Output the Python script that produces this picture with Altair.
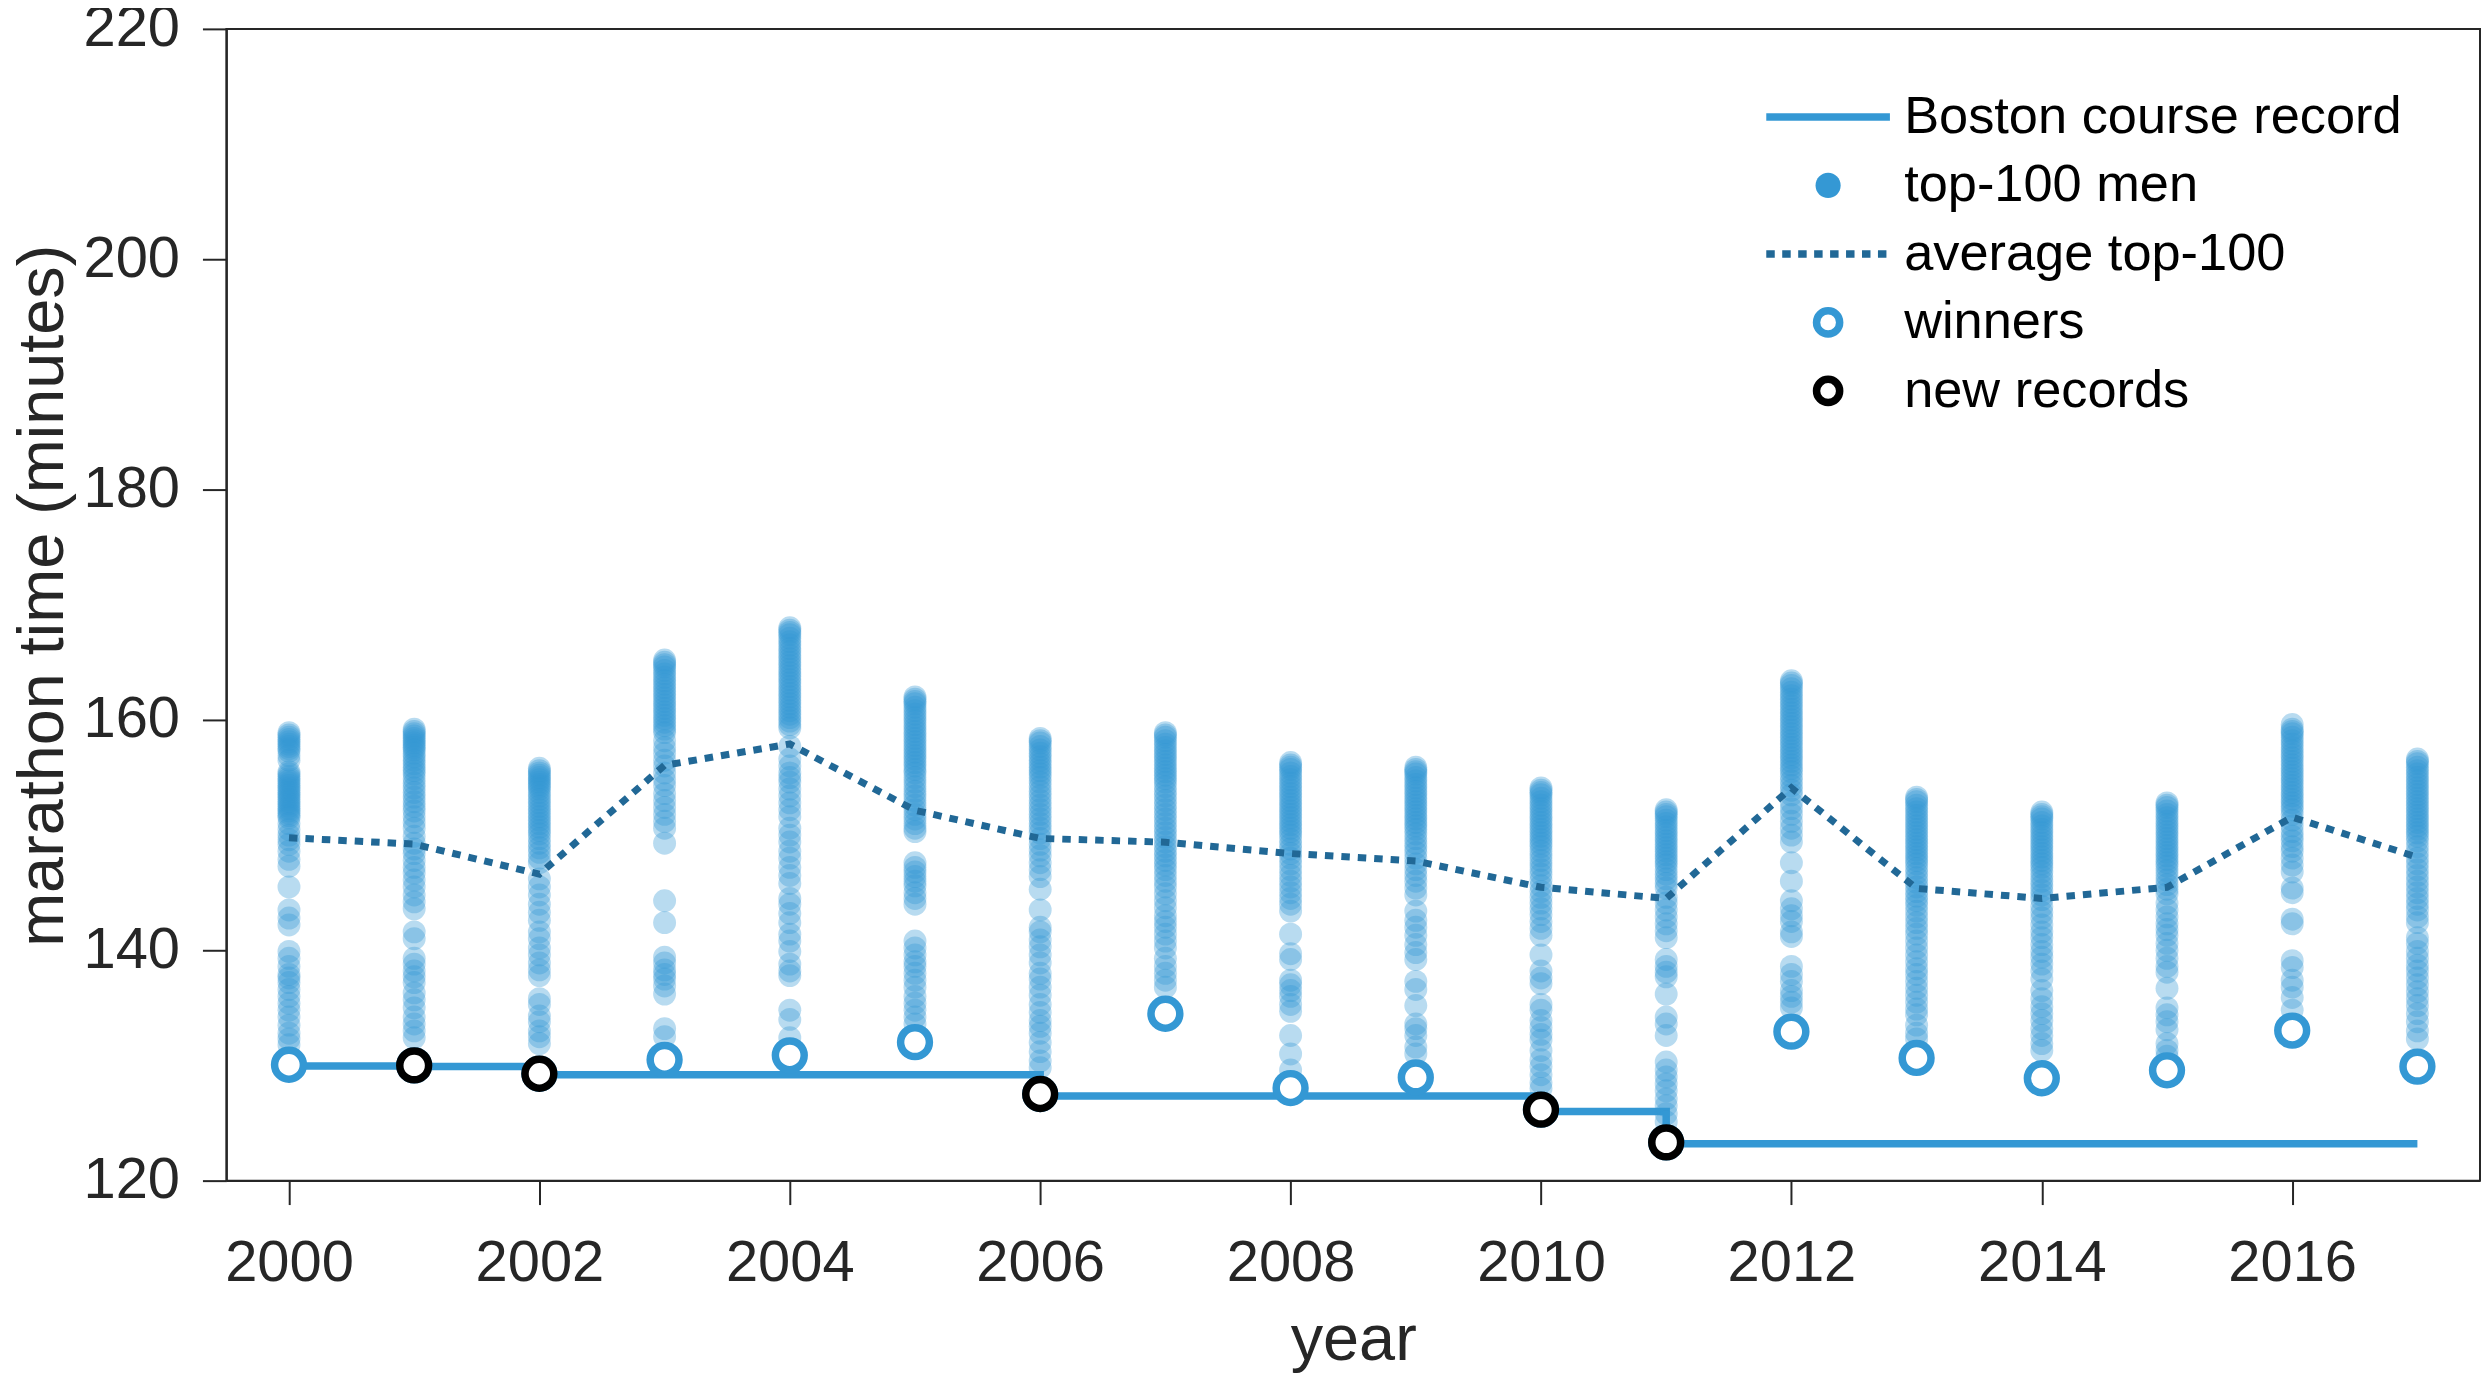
import altair as alt
import pandas as pd

# ---------------- data ----------------
years = list(range(2000, 2018))

winners = [130.06, 130.0, 129.28, 130.49, 130.88, 132.02, 127.52, 134.49, 128.04,
           128.96, 126.16, 123.32, 132.93, 130.65, 128.89, 129.58, 133.03, 129.90]

average = [149.77, 149.22, 146.61, 156.06, 157.91, 152.15, 149.71, 149.38, 148.40,
           147.75, 145.47, 144.50, 154.10, 145.37, 144.50, 145.47, 151.56, 148.08]

record_years = [2000, 2001, 2002, 2006, 2010, 2011, 2017]
record_times = [129.95, 129.9, 129.2, 127.35, 126.0, 123.2, 123.2]

new_record_years = [2001, 2002, 2006, 2010, 2011]
new_record_times = [130.0, 129.28, 127.52, 126.16, 123.32]

t2000 = [158.9, 158.7, 158.5, 158.3, 158.1, 157.9, 157.7, 157.5, 157.3, 156.9, 156.5, 155.5, 155.3, 155.1, 154.9, 154.7, 154.5, 154.3, 154.1, 153.9, 153.7, 153.5, 153.3, 153.1, 152.9, 152.7, 152.5, 152.3, 152.1, 151.9, 151.7, 151.5, 151.0, 150.5, 150.0, 149.6, 149.2, 148.6, 147.9, 147.3, 145.5, 143.5, 142.8, 142.2, 139.9, 139.3, 138.6, 137.9, 137.6, 137.2, 136.6, 136.0, 135.4, 134.8, 134.2, 133.5, 132.8, 132.3, 131.8]
t2001 = [159.2, 159.0, 158.8, 158.6, 158.4, 158.2, 158.0, 157.8, 157.6, 157.4, 157.1, 156.8, 156.5, 156.2, 155.9, 155.6, 155.3, 154.9, 154.5, 154.1, 153.7, 153.3, 152.9, 152.5, 152.1, 151.6, 151.1, 150.6, 149.9, 149.3, 148.8, 148.4, 147.8, 147.2, 146.7, 146.1, 145.5, 144.8, 144.2, 143.6, 141.6, 141.0, 139.3, 138.8, 138.2, 137.7, 137.2, 136.3, 135.7, 135.0, 134.2, 133.6, 133.0, 132.4]
t2002 = [155.8, 155.6, 155.4, 155.2, 155.0, 154.8, 154.6, 154.4, 154.2, 154.0, 153.7, 153.4, 153.1, 152.8, 152.5, 152.2, 151.9, 151.6, 151.3, 151.0, 150.7, 150.4, 150.1, 149.7, 149.3, 148.9, 148.5, 148.0, 147.6, 146.2, 145.5, 144.8, 144.0, 143.3, 142.6, 141.6, 141.0, 140.2, 139.6, 138.9, 138.3, 137.8, 135.8, 135.3, 134.3, 133.8, 133.0, 132.5, 131.9]
t2003 = [165.2, 165.0, 164.8, 164.6, 164.3, 164.0, 163.7, 163.4, 163.1, 162.8, 162.5, 162.2, 161.9, 161.6, 161.3, 161.0, 160.7, 160.4, 160.1, 159.8, 159.5, 159.2, 158.9, 158.2, 157.6, 157.1, 156.5, 156.0, 155.4, 154.8, 154.3, 153.6, 153.0, 152.4, 151.8, 151.2, 150.6, 149.3, 144.3, 142.4, 139.4, 138.9, 138.3, 137.9, 137.5, 136.9, 136.2, 133.2, 132.5]
t2004 = [168.0, 167.8, 167.6, 167.4, 167.1, 166.8, 166.5, 166.2, 165.9, 165.6, 165.3, 165.0, 164.7, 164.4, 164.1, 163.8, 163.5, 163.2, 162.9, 162.6, 162.3, 162.0, 161.7, 161.4, 161.1, 160.8, 160.5, 160.2, 159.9, 159.6, 159.3, 157.7, 156.6, 156.0, 155.4, 155.0, 154.6, 154.0, 153.4, 152.8, 152.2, 151.6, 150.6, 150.0, 149.4, 148.6, 148.0, 147.2, 146.5, 145.8, 144.5, 144.0, 143.2, 142.4, 141.4, 140.8, 139.9, 138.8, 138.2, 137.8, 134.8, 134.0, 132.4]
t2005 = [162.0, 161.8, 161.6, 161.4, 161.1, 160.8, 160.5, 160.2, 159.9, 159.6, 159.3, 159.0, 158.7, 158.4, 158.1, 157.8, 157.5, 157.2, 156.9, 156.6, 156.3, 156.0, 155.7, 155.4, 155.0, 154.6, 154.2, 153.8, 153.4, 153.0, 152.6, 152.2, 151.8, 151.4, 151.0, 150.6, 150.3, 147.6, 147.2, 146.8, 146.4, 146.0, 145.6, 145.0, 144.5, 144.0, 140.8, 140.2, 139.6, 139.0, 138.6, 138.0, 137.4, 136.8, 136.0, 135.4, 134.8, 134.2, 133.6]
t2006 = [158.4, 158.2, 158.0, 157.7, 157.4, 157.1, 156.8, 156.5, 156.2, 155.9, 155.6, 155.3, 155.0, 154.6, 154.2, 153.8, 153.4, 153.0, 152.6, 152.2, 151.8, 151.4, 151.0, 150.6, 150.2, 149.7, 149.2, 148.7, 148.2, 147.6, 147.0, 146.4, 145.3, 143.5, 142.0, 141.6, 140.9, 140.3, 139.6, 138.9, 138.0, 137.5, 136.8, 136.1, 135.3, 134.6, 133.9, 133.4, 132.8, 132.0, 131.2, 130.4, 129.8]
t2007 = [158.9, 158.7, 158.5, 158.2, 157.9, 157.6, 157.3, 157.0, 156.7, 156.4, 156.1, 155.8, 155.5, 155.2, 154.9, 154.6, 154.2, 153.8, 153.4, 153.0, 152.6, 152.2, 151.8, 151.4, 151.0, 150.6, 150.2, 149.8, 149.4, 149.0, 148.6, 148.2, 147.8, 147.4, 147.0, 146.5, 146.0, 145.5, 144.9, 144.3, 143.7, 143.0, 142.5, 142.0, 141.4, 140.8, 140.2, 139.3, 138.6, 138.0, 137.4, 136.8]
t2008 = [156.3, 156.1, 155.9, 155.7, 155.4, 155.1, 154.8, 154.5, 154.2, 153.9, 153.6, 153.3, 153.0, 152.7, 152.4, 152.1, 151.8, 151.5, 151.2, 150.9, 150.6, 150.3, 150.0, 149.6, 149.2, 148.8, 148.4, 148.0, 147.5, 147.0, 146.5, 146.0, 145.5, 145.0, 144.5, 144.0, 143.4, 141.4, 139.7, 139.2, 137.4, 137.0, 136.5, 136.0, 135.3, 134.7, 132.6, 131.0, 129.6]
t2009 = [155.9, 155.7, 155.5, 155.3, 155.0, 154.7, 154.4, 154.1, 153.8, 153.5, 153.2, 152.9, 152.6, 152.3, 152.0, 151.7, 151.4, 151.1, 150.8, 150.5, 150.1, 149.7, 149.3, 148.9, 148.5, 148.0, 147.5, 147.0, 146.5, 146.0, 145.4, 144.8, 143.4, 142.6, 142.0, 141.3, 140.5, 139.8, 139.2, 137.3, 136.6, 135.2, 133.6, 133.2, 132.6, 131.6, 131.0]
t2010 = [154.1, 153.9, 153.7, 153.5, 153.2, 152.9, 152.6, 152.3, 152.0, 151.7, 151.4, 151.1, 150.8, 150.5, 150.2, 149.9, 149.6, 149.3, 149.0, 148.6, 148.2, 147.8, 147.4, 147.0, 146.6, 146.1, 145.6, 145.1, 144.6, 144.1, 143.6, 143.1, 142.5, 141.9, 141.3, 139.6, 138.2, 137.6, 137.1, 135.3, 134.8, 133.9, 133.3, 132.7, 132.2, 131.3, 130.5, 129.9, 129.2, 128.5, 128.0]
t2011 = [152.2, 152.0, 151.8, 151.6, 151.3, 151.0, 150.7, 150.4, 150.1, 149.8, 149.5, 149.2, 148.9, 148.6, 148.3, 148.0, 147.7, 147.4, 147.0, 146.6, 146.2, 145.8, 145.4, 144.6, 144.1, 143.5, 142.9, 142.3, 141.7, 141.1, 139.2, 138.6, 138.1, 137.7, 136.2, 134.2, 133.6, 132.6, 130.3, 129.6, 129.0, 128.4, 127.8, 127.1, 126.5, 125.8, 125.1]
t2012 = [163.4, 163.2, 163.0, 162.7, 162.4, 162.1, 161.8, 161.5, 161.2, 160.9, 160.6, 160.3, 160.0, 159.7, 159.4, 159.1, 158.8, 158.5, 158.2, 157.9, 157.6, 157.3, 157.0, 156.7, 156.4, 156.1, 155.8, 155.5, 155.1, 154.7, 154.3, 153.9, 153.5, 152.8, 152.3, 151.8, 151.2, 150.6, 150.0, 149.4, 147.6, 146.0, 144.3, 143.6, 143.0, 142.5, 141.6, 141.2, 138.6, 137.9, 137.3, 136.5, 136.0, 135.5, 135.0]
t2013 = [153.3, 153.1, 152.9, 152.6, 152.3, 152.0, 151.7, 151.4, 151.1, 150.8, 150.5, 150.2, 149.9, 149.6, 149.3, 149.0, 148.7, 148.4, 148.1, 147.8, 147.5, 147.1, 146.7, 146.3, 145.9, 145.5, 145.1, 144.7, 144.3, 143.9, 143.4, 142.9, 142.4, 141.9, 141.4, 140.8, 140.2, 139.6, 139.0, 138.4, 137.9, 137.3, 136.7, 136.1, 135.5, 134.9, 134.4, 133.5, 132.8, 132.3]
t2014 = [152.0, 151.8, 151.6, 151.4, 151.1, 150.8, 150.5, 150.2, 149.9, 149.6, 149.3, 149.0, 148.7, 148.4, 148.1, 147.8, 147.5, 147.2, 146.8, 146.4, 146.0, 145.6, 145.2, 144.8, 144.4, 143.8, 143.3, 142.8, 142.2, 141.6, 141.1, 140.5, 139.9, 139.4, 138.8, 138.2, 137.5, 136.5, 135.8, 135.1, 134.5, 133.9, 133.2, 132.6, 131.9, 131.3]
t2015 = [152.8, 152.6, 152.4, 152.1, 151.8, 151.5, 151.2, 150.9, 150.6, 150.3, 150.0, 149.7, 149.4, 149.1, 148.8, 148.5, 148.2, 147.9, 147.6, 147.3, 146.9, 146.5, 146.1, 145.7, 145.3, 144.9, 144.1, 143.5, 142.9, 142.3, 141.8, 141.3, 140.6, 140.0, 139.3, 138.6, 138.1, 136.7, 135.0, 134.4, 133.8, 133.1, 131.9, 131.3, 130.8]
t2016 = [159.6, 159.2, 159.0, 158.8, 158.5, 158.2, 157.9, 157.6, 157.3, 157.0, 156.7, 156.4, 156.1, 155.8, 155.5, 155.2, 154.9, 154.6, 154.3, 154.0, 153.7, 153.4, 153.1, 152.8, 152.5, 152.2, 151.8, 151.3, 150.8, 150.3, 149.9, 149.5, 149.0, 148.6, 148.0, 147.4, 146.8, 145.4, 145.0, 142.7, 142.3, 139.1, 138.5, 137.4, 136.8, 135.9, 134.8]
t2017 = [156.6, 156.4, 156.2, 155.9, 155.6, 155.3, 155.0, 154.7, 154.4, 154.1, 153.8, 153.5, 153.2, 152.9, 152.6, 152.3, 152.0, 151.7, 151.4, 151.1, 150.8, 150.5, 150.2, 149.9, 149.5, 149.0, 148.5, 148.0, 147.5, 147.0, 146.5, 146.0, 145.5, 145.0, 144.5, 144.0, 143.5, 142.9, 142.4, 141.1, 140.6, 139.9, 139.3, 138.7, 138.2, 137.6, 137.0, 136.4, 135.8, 135.2, 134.5, 133.8, 133.0, 132.3]

top100 = [t2000, t2001, t2002, t2003, t2004, t2005, t2006, t2007, t2008,
          t2009, t2010, t2011, t2012, t2013, t2014, t2015, t2016, t2017]

series = ['Boston course record', 'top-100 men', 'average top-100', 'winners', 'new records']

# ---------------- styling ----------------
BLUE = '#3498d4'
DARK = '#216896'
BLACK = '#000000'
AXC = '#262626'
FONT = 'Liberation Sans'

df_rec = pd.DataFrame({'year': record_years, 'time': record_times, 'series': series[0]})
df_pts = pd.DataFrame([{'year': y, 'time': v, 'series': series[1]}
                       for y, vals in zip(years, top100) for v in vals])
df_avg = pd.DataFrame({'year': years, 'time': average, 'series': series[2]})
df_win = pd.DataFrame({'year': years, 'time': winners, 'series': series[3]})
df_new = pd.DataFrame({'year': new_record_years, 'time': new_record_times, 'series': series[4]})

LINE = 'M-3.1,0H3.1'
DOT = 'M-0.63,0A0.63,0.63,0,1,0,0.63,0A0.63,0.63,0,1,0,-0.63,0Z'
RING = 'M-0.58,0A0.58,0.58,0,1,0,0.58,0A0.58,0.58,0,1,0,-0.58,0Z'


def make_legend(row, shape, **kw):
    return alt.Legend(
        orient='none', legendX=1580, legendY=62 + 68.7 * row, title=None,
        labelFont=FONT, labelFontSize=52.5, labelColor=BLACK, labelLimit=1000,
        labelOffset=50, symbolSize=1600, symbolStrokeWidth=7.5, symbolOpacity=1,
        symbolType=shape, padding=0, **kw)


def color_enc(i, col, shape, **kw):
    return alt.Color('series:N', scale=alt.Scale(domain=[series[i]], range=[col]),
                     legend=make_legend(i, shape, **kw))


X = alt.X('year:Q',
          scale=alt.Scale(domain=[1999.5, 2017.5], nice=False, zero=False),
          axis=alt.Axis(values=list(range(2000, 2017, 2)), format='d', title='year',
                        labelPadding=30, titlePadding=16))
Y = alt.Y('time:Q',
          scale=alt.Scale(domain=[120, 220], nice=False, zero=False),
          axis=alt.Axis(values=list(range(120, 221, 20)), title='marathon time (minutes)',
                        labelPadding=23, titlePadding=7, titleY=568))

record = alt.Chart(df_rec).mark_line(interpolate='step-after', strokeWidth=7.5).encode(
    X, Y, color_enc(0, BLUE, LINE))
points = alt.Chart(df_pts).mark_circle(size=529, opacity=0.35).encode(
    X, Y, color_enc(1, BLUE, DOT))
avg = alt.Chart(df_avg).mark_line(strokeWidth=7, strokeDash=[8.5, 8]).encode(
    X, Y, color_enc(2, DARK, LINE, symbolDash=[8.5, 7.5]))
win = alt.Chart(df_win).mark_point(shape='circle', filled=False, fill='white', size=835,
                                   strokeWidth=7.5, opacity=1).encode(
    X, Y, color_enc(3, BLUE, RING))
newrec = alt.Chart(df_new).mark_point(shape='circle', filled=False, fill='white', size=835,
                                      strokeWidth=7.5, opacity=1).encode(
    X, Y, color_enc(4, BLACK, RING))

chart = alt.layer(record, points, avg, win, newrec).resolve_scale(
    color='independent'
).properties(
    width=2260, height=1155,
    autosize=alt.AutoSizeParams(type='none'),
    padding={'left': 219, 'top': 19, 'right': 2, 'bottom': 200},
).configure(font=FONT).configure_axis(
    labelFont=FONT, labelFontSize=58, labelColor=AXC,
    titleFont=FONT, titleFontSize=65, titleFontWeight='normal', titleColor=AXC,
    tickSize=24, tickWidth=2, tickColor=AXC,
    domainColor=AXC, domainWidth=2, grid=False,
).configure_view(stroke=AXC, strokeWidth=2)

chart.save("out.html", embed_options={"renderer": "svg", "actions": False})
